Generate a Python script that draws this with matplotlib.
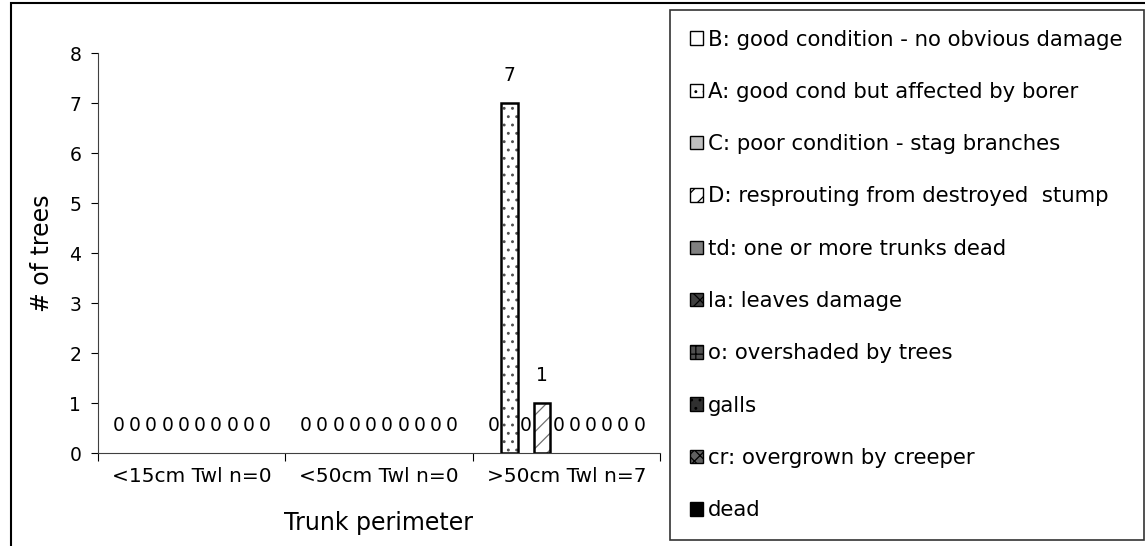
import matplotlib
matplotlib.use("Agg")
import matplotlib.pyplot as plt
import numpy as np
from matplotlib.patches import Rectangle, Patch

plt.rcParams['font.family'] = ['DejaVu Sans']
plt.rcParams['hatch.linewidth'] = 0.9

categories = ["<15cm Twl n=0", "<50cm Twl n=0", ">50cm Twl n=7"]
series_names = [
    "B: good condition - no obvious damage",
    "A: good cond but affected by borer",
    "C: poor condition - stag branches",
    "D: resprouting from destroyed  stump",
    "td: one or more trunks dead",
    "la: leaves damage",
    "o: overshaded by trees",
    "galls",
    "cr: overgrown by creeper",
    "dead",
]
B = [0, 0, 0]
A = [0, 0, 7]
C = [0, 0, 0]
D = [0, 0, 1]
td = [0, 0, 0]
la = [0, 0, 0]
o = [0, 0, 0]
galls = [0, 0, 0]
cr = [0, 0, 0]
dead = [0, 0, 0]
series_values = [B, A, C, D, td, la, o, galls, cr, dead]

styles = [
    dict(facecolor='white', hatch=None, hc='black'),
    dict(facecolor='white', hatch='..', hc='#505050'),
    dict(facecolor='#c0c0c0', hatch=None, hc='black'),
    dict(facecolor='white', hatch='//', hc='#707070'),
    dict(facecolor='#808080', hatch=None, hc='black'),
    dict(facecolor='#404040', hatch='xx', hc='black'),
    dict(facecolor='#505050', hatch='++', hc='black'),
    dict(facecolor='#303030', hatch='..', hc='black'),
    dict(facecolor='#606060', hatch='xxx', hc='black'),
    dict(facecolor='black', hatch=None, hc='black'),
]

fig = plt.figure(figsize=(11.45, 5.46), dpi=100)
ax = fig.add_axes([0.0856, 0.1703, 0.4908, 0.7326])

n = len(series_values)
w = 0.0867
x = np.arange(len(categories))
for i, (vals, st, name) in enumerate(zip(series_values, styles, series_names)):
    pos = x + (i - (n - 1) / 2) * w
    if st['hatch']:
        ax.bar(pos, vals, width=w, facecolor=st['facecolor'], hatch=st['hatch'],
               edgecolor=st['hc'], linewidth=0)
        fc = 'none'
    else:
        fc = st['facecolor']
    bars = ax.bar(pos, vals, width=w, facecolor=fc,
                  edgecolor='black', linewidth=1.8)
    for b, v in zip(bars, vals):
        if v == 0:
            b.set_linewidth(0)
    ax.bar_label(bars, padding=13, fontsize=13.5)

ax.set_xlim(-0.5, 2.5)
ax.set_ylim(0, 8)
ax.set_yticks(range(0, 9))
ax.tick_params(axis='y', labelsize=13.5, length=5, direction='out', pad=7)
ax.set_xticks([-0.5, 0.5, 1.5, 2.5])
ax.set_xticklabels([])
ax.tick_params(axis='x', length=6, direction='out')
ax.set_xticks(x, minor=True)
ax.set_xticklabels(categories, minor=True)
ax.tick_params(axis='x', which='minor', length=0, labelsize=14.5, pad=10)
for s in ['top', 'right']:
    ax.spines[s].set_visible(False)
for s in ['left', 'bottom']:
    ax.spines[s].set_color('#404040')
ax.set_xlabel("Trunk perimeter", fontsize=17, labelpad=18)
ax.set_ylabel("# of trees", fontsize=17, labelpad=11)

# outer chart frame
fig.patches.append(Rectangle((11 / 1145, -0.2), 1.2, 1 - 3 / 546 + 0.2,
                             transform=fig.transFigure, fill=False,
                             edgecolor='black', linewidth=1.5, clip_on=False))

handles = [Patch(facecolor=st['facecolor'], hatch=st['hatch'], edgecolor='black',
                 linewidth=1.0) for st in styles]
leg = fig.legend(handles, series_names, loc='upper left',
                 bbox_to_anchor=(670 / 1145, 0.011, 474 / 1145, 0.971),
                 mode='expand', borderaxespad=0, fontsize=15.3,
                 labelspacing=1.52, borderpad=0.93, handlelength=0.6,
                 handleheight=0.6, handletextpad=0.25, fancybox=False,
                 frameon=True, edgecolor='black')
leg.get_frame().set_linewidth(1.2)

fig.savefig("out.png", dpi=100)
